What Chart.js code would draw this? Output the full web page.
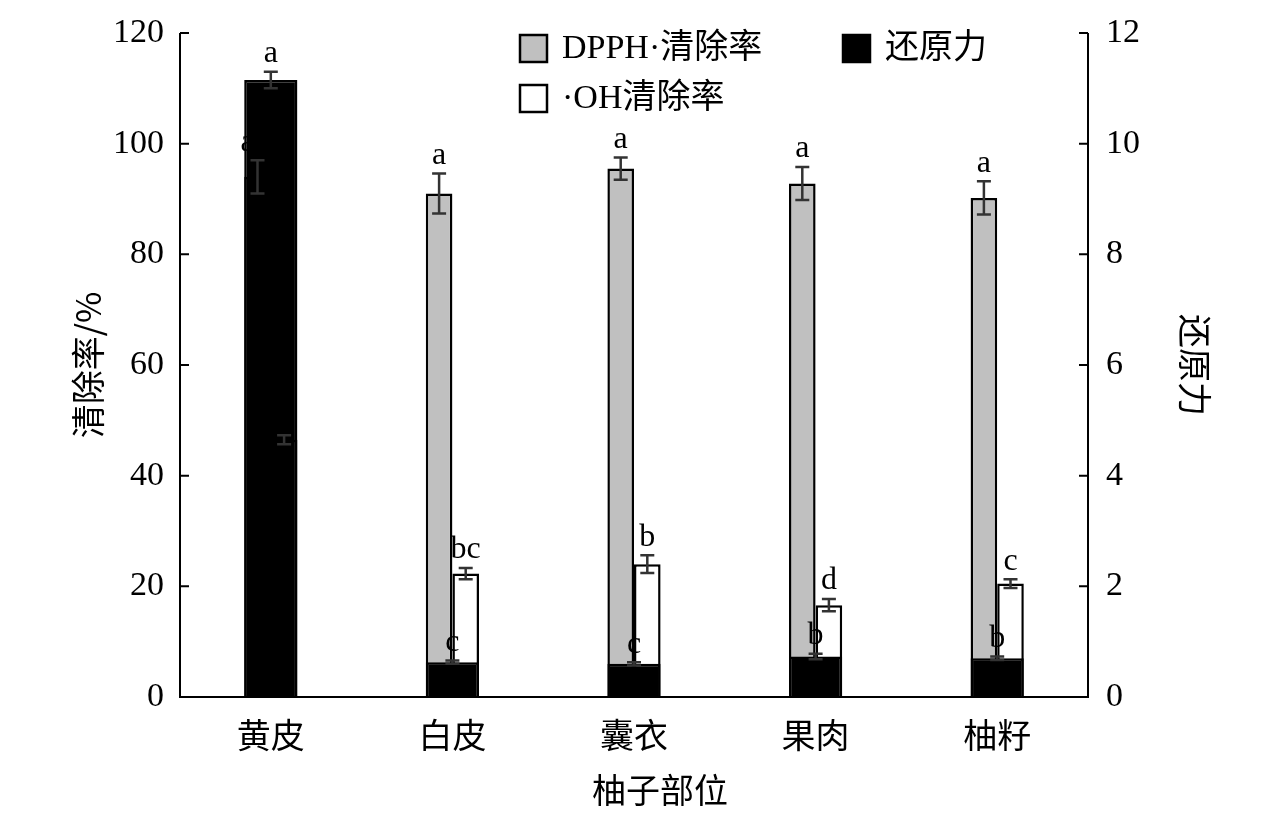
<!DOCTYPE html>
<html>
<head>
<meta charset="utf-8">
<script src="https://cdn.jsdelivr.net/npm/chart.js@4"></script>
<style>
  body { margin: 0; background: #fff; }
  #wrap { width: 1276px; height: 817px; }
</style>
</head>
<body>
<div id="wrap"><canvas id="c" width="1276" height="817"></canvas></div>
<script>
const categories = ['黄皮', '白皮', '囊衣', '果肉', '柚籽'];
const dpphValues = [94, 91, 95.5, 92.8, 90.2];
const dpphErrors = [3, 3.6, 2, 3, 3];
const dpphLetters = ['a', 'a', 'a', 'a', 'a'];
const reduceValues = [11.15, 0.63, 0.6, 0.73, 0.7];
const reduceErrors = [0.15, 0.03, 0.03, 0.05, 0.03];
const reduceLetters = ['a', 'c', 'c', 'b', 'b'];
const ohValues = [46.5, 22.3, 24, 16.6, 20.5];
const ohErrors = [0.8, 1, 1.6, 1.1, 0.8];
const ohLetters = ['a', 'bc', 'b', 'd', 'c'];
const leftTicks = [0, 20, 40, 60, 80, 100, 120];
const rightTicks = [0, 2, 4, 6, 8, 10, 12];

const serif = '"Liberation Serif", "Noto Sans CJK SC", serif';
const cjk = '"Noto Sans CJK SC", sans-serif';

const extras = {
    id: 'extras',
    afterDatasetsDraw(chart) {
        const ctx = chart.ctx;
        const area = chart.chartArea;
        const yL = chart.scales.y;
        const yR = chart.scales.y2;
        ctx.save();
        // error bars and letters
        chart.data.datasets.forEach((ds, di) => {
            const meta = chart.getDatasetMeta(di);
            const scale = ds.yAxisID === 'y2' ? yR : yL;
            meta.data.forEach((bar, i) => {
                const v = ds.data[i], e = ds.errors[i];
                const top = scale.getPixelForValue(v + e);
                const bot = scale.getPixelForValue(v - e);
                ctx.strokeStyle = '#333';
                ctx.lineWidth = 2.5;
                ctx.beginPath();
                ctx.moveTo(bar.x, top); ctx.lineTo(bar.x, bot);
                ctx.moveTo(bar.x - 7, top); ctx.lineTo(bar.x + 7, top);
                ctx.moveTo(bar.x - 7, bot); ctx.lineTo(bar.x + 7, bot);
                ctx.stroke();
                ctx.fillStyle = '#000';
                ctx.font = '32px ' + serif;
                ctx.textAlign = 'center';
                ctx.textBaseline = 'bottom';
                const lx = di === 1 && i === 0 ? bar.x - 10 : bar.x;
                ctx.fillText(ds.letters[i], lx, top - 2);
            });
        });
        // frame and inward ticks
        ctx.strokeStyle = '#000';
        ctx.lineWidth = 2;
        ctx.beginPath();
        ctx.moveTo(area.left, area.top); ctx.lineTo(area.left, area.bottom);
        ctx.lineTo(area.right, area.bottom); ctx.lineTo(area.right, area.top);
        leftTicks.forEach(t => {
            const y = yL.getPixelForValue(t);
            ctx.moveTo(area.left, y); ctx.lineTo(area.left + 9, y);
        });
        rightTicks.forEach(t => {
            const y = yR.getPixelForValue(t);
            ctx.moveTo(area.right, y); ctx.lineTo(area.right - 9, y);
        });
        ctx.stroke();
        // legend
        const items = [
            { x: 520, y: 35, fill: '#c0c0c0', label: 'DPPH·清除率' },
            { x: 843, y: 35, fill: '#000', label: '还原力' },
            { x: 520, y: 85, fill: '#fff', label: '·OH清除率' }
        ];
        items.forEach(it => {
            ctx.fillStyle = it.fill;
            ctx.fillRect(it.x, it.y, 27, 27);
            ctx.lineWidth = 2.5;
            ctx.strokeRect(it.x, it.y, 27, 27);
            ctx.fillStyle = '#000';
            ctx.font = '34px ' + serif;
            ctx.textAlign = 'left';
            ctx.textBaseline = 'middle';
            ctx.fillText(it.label, it.x + 42, it.y + 14);
        });
        // axis titles
        ctx.font = '34px ' + cjk;
        ctx.textAlign = 'center';
        ctx.textBaseline = 'middle';
        ctx.fillText('柚子部位', 660, 790);
        ctx.save();
        ctx.translate(88, 365); ctx.rotate(-Math.PI / 2);
        ctx.fillText('清除率/%', 0, 0);
        ctx.restore();
        ctx.save();
        ctx.translate(1195, 365); ctx.rotate(Math.PI / 2);
        ctx.fillText('还原力', 0, 0);
        ctx.restore();
        ctx.restore();
    }
};

new Chart(document.getElementById('c').getContext('2d'), {
    type: 'bar',
    data: {
        labels: categories,
        datasets: [
            {
                label: '还原力', data: reduceValues, errors: reduceErrors, letters: reduceLetters,
                backgroundColor: '#000', borderColor: '#000', borderWidth: 2.5,
                xAxisID: 'x2', yAxisID: 'y2', order: 0, grouped: false,
                categoryPercentage: 0.293, barPercentage: 1
            },
            {
                label: 'DPPH·清除率', data: dpphValues, errors: dpphErrors, letters: dpphLetters,
                backgroundColor: '#c0c0c0', borderColor: '#000', borderWidth: 2.5,
                xAxisID: 'x', yAxisID: 'y', order: 1,
                categoryPercentage: 0.586, barPercentage: 1
            },
            {
                label: '·OH清除率', data: ohValues, errors: ohErrors, letters: ohLetters,
                backgroundColor: '#fff', borderColor: '#000', borderWidth: 2.5,
                xAxisID: 'x', yAxisID: 'y', order: 1,
                categoryPercentage: 0.586, barPercentage: 1
            }
        ]
    },
    options: {
        responsive: false,
        animation: false,
        layout: { padding: { top: 33 } },
        plugins: { legend: { display: false }, tooltip: { enabled: false } },
        scales: {
            x: {
                grid: { display: false }, border: { display: false },
                ticks: { color: '#000', font: { size: 34, family: cjk }, padding: 10 },
                afterFit: s => { s.height = 120; }
            },
            x2: { display: false, offset: true },
            y: {
                position: 'left', min: 0, max: 120,
                grid: { display: false }, border: { display: false },
                ticks: { stepSize: 20, color: '#000', font: { size: 34, family: serif }, padding: 8 },
                afterFit: s => { s.width = 180; }
            },
            y2: {
                position: 'right', min: 0, max: 12,
                grid: { display: false }, border: { display: false },
                ticks: { stepSize: 2, color: '#000', font: { size: 34, family: serif }, padding: 10 },
                afterFit: s => { s.width = 188; }
            }
        }
    },
    plugins: [extras]
});
</script>
</body>
</html>
